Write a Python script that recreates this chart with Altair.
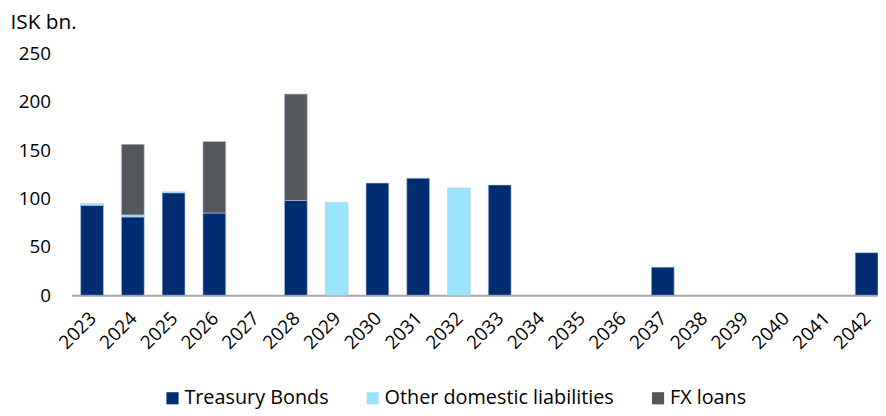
import altair as alt
import pandas as pd

years = [str(y) for y in range(2023, 2043)]
treasury = [93, 81, 106, 85, 0, 98, 0, 116, 121, 0, 114, 0, 0, 0, 29, 0, 0, 0, 0, 44]
other = [2, 2, 1, 0, 0, 0, 96, 0, 0, 111, 0, 0, 0, 0, 0, 0, 0, 0, 0, 0]
fx = [0, 73, 0, 74, 0, 110, 0, 0, 0, 0, 0, 0, 0, 0, 0, 0, 0, 0, 0, 0]
series = ["Treasury Bonds", "Other domestic liabilities", "FX loans"]
colors = ["#002D72", "#9BE3FA", "#54575C"]

rows = []
for i, y in enumerate(years):
    for k, (name, vals) in enumerate(zip(series, [treasury, other, fx])):
        rows.append({"year": y, "series": name, "value": vals[i], "order": k})
df = pd.DataFrame(rows)

FONT = "Open Sans"

chart = alt.Chart(df).transform_filter(
    alt.datum.value > 0
).mark_bar(stroke="#b8cce4", strokeWidth=0.6).encode(
    x=alt.X("year:N", sort=years, title=None,
            scale=alt.Scale(domain=years, paddingInner=0.44, paddingOuter=0.113,
                            align=1),
            axis=alt.Axis(labelAngle=-45, labelFontSize=19, labelFont=FONT,
                          labelColor="#000000", ticks=False, domainColor="#A6A6A6",
                          domainWidth=2, labelPadding=20, labelAlign="right",
                          labelBaseline="middle", labelOffset=1)),
    y=alt.Y("value:Q", stack="zero",
            scale=alt.Scale(domain=[0, 250]),
            axis=alt.Axis(values=[0, 50, 100, 150, 200, 250], grid=False, ticks=False,
                          domain=False, labelFontSize=19, labelFont=FONT,
                          labelColor="#000000", labelPadding=21,
                          title="ISK bn.", titleAngle=0, titleAlign="left",
                          titleFontSize=21, titleFont=FONT, titleFontWeight="normal",
                          titleColor="#000000", titleX=-62, titleY=-31,
                          titleBaseline="middle")),
    color=alt.Color("series:N", sort=series,
                    scale=alt.Scale(domain=series, range=colors),
                    legend=alt.Legend(title=None, orient="none", direction="horizontal",
                                      legendX=92, legendY=338, symbolType="square",
                                      symbolSize=150, symbolStrokeWidth=0,
                                      labelFontSize=20, labelFont=FONT, labelLimit=0,
                                      labelColor="#000000", columnPadding=34,
                                      labelOffset=2)),
    order=alt.Order("order:Q"),
).properties(
    width=814, height=244,
    autosize=alt.AutoSizeParams(type="none"),
    padding={"left": 64, "top": 44, "right": 0, "bottom": 120},
).configure_view(stroke=None)

chart.save("out.html", embed_options={"renderer": "svg", "actions": False})
